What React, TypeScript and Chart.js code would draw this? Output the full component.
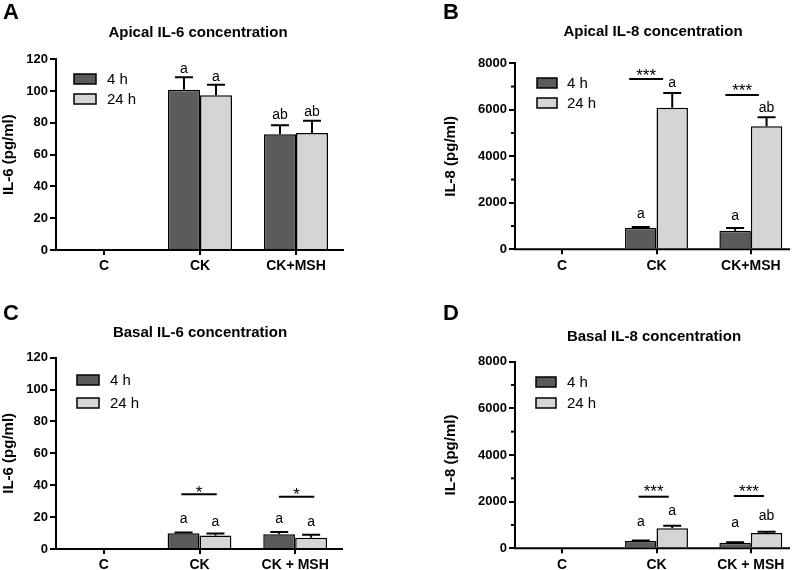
import React, { useEffect, useRef } from 'react';
import { Chart, registerables } from 'chart.js';

Chart.register(...registerables);

const FONT = '"Liberation Sans", Arial, Helvetica, sans-serif';

// ---------- data ----------
const seriesLabels = ['4 h', '24 h'];
const categoriesApical = ['C', 'CK', 'CK+MSH'];
const categoriesBasal = ['C', 'CK', 'CK + MSH'];

const ticksIL6 = [0, 20, 40, 60, 80, 100, 120];
const ticksIL8 = [0, 2000, 4000, 6000, 8000];
const minorTicksIL8 = [1000, 3000, 5000, 7000];

// A: apical IL-6
const apicalIL6_4h = [0, 100.9, 72.8];
const apicalIL6_4h_sem = [0, 7.8, 5.7];
const apicalIL6_24h = [0, 97.3, 73.6];
const apicalIL6_24h_sem = [0, 6.7, 7.8];
// [category, series, text, y]
const apicalIL6_letters: [number, number, string, number][] = [
  [1, 0, 'a', 113.8],
  [1, 1, 'a', 108.9],
  [2, 0, 'ab', 85],
  [2, 1, 'ab', 86.4],
];
// [category, lineY, starY, text]
const apicalIL6_sig: [number, number, number, string][] = [];

// B: apical IL-8
const apicalIL8_4h = [0, 929, 800];
const apicalIL8_4h_sem = [0, 30, 116];
const apicalIL8_24h = [30, 6090, 5290];
const apicalIL8_24h_sem = [0, 630, 387];
const apicalIL8_letters: [number, number, string, number][] = [
  [1, 0, 'a', 1518],
  [1, 1, 'a', 7153],
  [2, 0, 'a', 1432],
  [2, 1, 'ab', 6056],
];
const apicalIL8_sig: [number, number, number, string][] = [
  [1, 7325, 7669, '***'],
  [2, 6637, 7023, '***'],
];

// C: basal IL-6
const basalIL6_4h = [0, 9.85, 9.2];
const basalIL6_4h_sem = [0, 0.5, 1.5];
const basalIL6_24h = [0, 8.4, 7.1];
const basalIL6_24h_sem = [0, 1.3, 1.9];
const basalIL6_letters: [number, number, string, number][] = [
  [1, 0, 'a', 18.5],
  [1, 1, 'a', 16.9],
  [2, 0, 'a', 18.5],
  [2, 1, 'a', 16.9],
];
const basalIL6_sig: [number, number, number, string][] = [
  [1, 34.3, 38.1, '*'],
  [2, 32.8, 37.0, '*'],
];

// D: basal IL-8
const basalIL8_4h = [0, 313, 240];
const basalIL8_4h_sem = [0, 20, 15];
const basalIL8_24h = [0, 857, 656];
const basalIL8_24h_sem = [0, 112, 57];
const basalIL8_letters: [number, number, string, number][] = [
  [1, 0, 'a', 1128],
  [1, 1, 'a', 1599],
  [2, 0, 'a', 1063],
  [2, 1, 'ab', 1355],
];
const basalIL8_sig: [number, number, number, string][] = [
  [1, 2212, 2607, '***'],
  [2, 2242, 2620, '***'],
];

// ---------- styles / layout ----------
const DARK = '#5b5b5b';
const LIGHT = '#d5d5d5';

type Layout = {
  x: number; y: number;
  padL: number; left: number; right: number; top: number; bottom: number;
  axisInset: number;
  titleX: number; titleBase: number;
  letterX: number; letterBase: number;
  boxX: number; boxW: number; boxH: number; row1Y: number; row2Y: number; textX: number;
  sigSpans: [number, number][];
};

type PanelCfg = {
  letter: string; title: string; yTitle: string;
  categories: string[];
  v4: number[]; e4: number[]; v24: number[]; e24: number[];
  ticks: number[]; minor: number[];
  letters: [number, number, string, number][];
  sig: [number, number, number, string][];
  L: Layout;
};

const panels: PanelCfg[] = [
  {
    letter: 'A', title: 'Apical IL-6 concentration', yTitle: 'IL-6 (pg/ml)',
    categories: categoriesApical,
    v4: apicalIL6_4h, e4: apicalIL6_4h_sem, v24: apicalIL6_24h, e24: apicalIL6_24h_sem,
    ticks: ticksIL6, minor: [], letters: apicalIL6_letters, sig: apicalIL6_sig,
    L: { x: 0, y: 0, padL: 0, left: 56, right: 344, top: 59.3, bottom: 250, axisInset: 0,
      titleX: 198, titleBase: 36.5, letterX: 3, letterBase: 19,
      boxX: 74, boxW: 22, boxH: 10, row1Y: 74, row2Y: 94, textX: 107, sigSpans: [] },
  },
  {
    letter: 'B', title: 'Apical IL-8 concentration', yTitle: 'IL-8 (pg/ml)',
    categories: categoriesApical,
    v4: apicalIL8_4h, e4: apicalIL8_4h_sem, v24: apicalIL8_24h, e24: apicalIL8_24h_sem,
    ticks: ticksIL8, minor: minorTicksIL8, letters: apicalIL8_letters, sig: apicalIL8_sig,
    L: { x: 400, y: 0, padL: 42, left: 115, right: 398, top: 63.3, bottom: 249.3, axisInset: 8,
      titleX: 253, titleBase: 35.7, letterX: 43, letterBase: 19,
      boxX: 137, boxW: 20, boxH: 10, row1Y: 78, row2Y: 98, textX: 167,
      sigSpans: [[-0.29, 0.07], [-0.27, 0.085]] },
  },
  {
    letter: 'C', title: 'Basal IL-6 concentration', yTitle: 'IL-6 (pg/ml)',
    categories: categoriesBasal,
    v4: basalIL6_4h, e4: basalIL6_4h_sem, v24: basalIL6_24h, e24: basalIL6_24h_sem,
    ticks: ticksIL6, minor: [], letters: basalIL6_letters, sig: basalIL6_sig,
    L: { x: 0, y: 285, padL: 0, left: 56, right: 343, top: 72.7, bottom: 264, axisInset: 0,
      titleX: 200, titleBase: 52.4, letterX: 3, letterBase: 35,
      boxX: 77, boxW: 22, boxH: 10, row1Y: 90, row2Y: 113, textX: 110,
      sigSpans: [[-0.19, 0.18], [-0.17, 0.2]] },
  },
  {
    letter: 'D', title: 'Basal IL-8 concentration', yTitle: 'IL-8 (pg/ml)',
    categories: categoriesBasal,
    v4: basalIL8_4h, e4: basalIL8_4h_sem, v24: basalIL8_24h, e24: basalIL8_24h_sem,
    ticks: ticksIL8, minor: minorTicksIL8, letters: basalIL8_letters, sig: basalIL8_sig,
    L: { x: 400, y: 285, padL: 42, left: 115, right: 398, top: 76.7, bottom: 263.3, axisInset: 8,
      titleX: 254, titleBase: 55.7, letterX: 43, letterBase: 35,
      boxX: 136, boxW: 20, boxH: 10, row1Y: 92, row2Y: 113, textX: 167,
      sigSpans: [[-0.19, 0.13], [-0.18, 0.14]] },
  },
];

const W = 400;
const H = 285;

function makePlugin(p: PanelCfg) {
  const L = p.L;
  return {
    id: 'decor' + p.letter,
    afterDatasetsDraw(chart: any) {
      const ctx = chart.ctx as CanvasRenderingContext2D;
      const ys = chart.scales.y;
      const sems = [p.e4, p.e24];
      const vals = [p.v4, p.v24];
      ctx.save();
      ctx.strokeStyle = '#000';
      ctx.lineWidth = 2;
      for (let s = 0; s < 2; s++) {
        const meta = chart.getDatasetMeta(s);
        for (let j = 0; j < vals[s].length; j++) {
          const sem = sems[s][j];
          if (!sem) continue;
          const bar = meta.data[j];
          const yTop = ys.getPixelForValue(vals[s][j]);
          const yErr = ys.getPixelForValue(vals[s][j] + sem);
          ctx.beginPath();
          ctx.moveTo(bar.x, yTop);
          ctx.lineTo(bar.x, yErr);
          ctx.moveTo(bar.x - 9, yErr);
          ctx.lineTo(bar.x + 9, yErr);
          ctx.stroke();
        }
      }
      ctx.restore();
    },
    afterDraw(chart: any) {
      const ctx = chart.ctx as CanvasRenderingContext2D;
      const ca = chart.chartArea;
      const ys = chart.scales.y;
      const xs = chart.scales.x;
      ctx.save();
      // x axis line
      ctx.strokeStyle = '#000';
      ctx.lineWidth = 2;
      ctx.beginPath();
      ctx.moveTo(ca.left - 1, ca.bottom);
      ctx.lineTo(ca.right - L.axisInset, ca.bottom);
      ctx.stroke();
      // minor ticks
      for (const v of p.minor) {
        const y = ys.getPixelForValue(v);
        ctx.beginPath();
        ctx.moveTo(ca.left - 4, y);
        ctx.lineTo(ca.left, y);
        ctx.stroke();
      }
      // panel letter
      ctx.fillStyle = '#000';
      ctx.textAlign = 'left';
      ctx.textBaseline = 'alphabetic';
      ctx.font = `bold 22px ${FONT}`;
      ctx.fillText(p.letter, L.letterX, L.letterBase);
      // title
      ctx.textAlign = 'center';
      ctx.font = `bold 15px ${FONT}`;
      ctx.fillText(p.title, L.titleX, L.titleBase);
      // legend
      const cols = [DARK, LIGHT];
      const rows = [L.row1Y, L.row2Y];
      ctx.lineWidth = 1.5;
      for (let i = 0; i < 2; i++) {
        ctx.fillStyle = cols[i];
        ctx.fillRect(L.boxX, rows[i], L.boxW, L.boxH);
        ctx.strokeRect(L.boxX, rows[i], L.boxW, L.boxH);
        ctx.fillStyle = '#000';
        ctx.textAlign = 'left';
        ctx.font = `15px ${FONT}`;
        ctx.fillText(seriesLabels[i], L.textX, rows[i] + L.boxH / 2 + 5.4);
      }
      // letters
      ctx.font = `14px ${FONT}`;
      ctx.textAlign = 'center';
      for (const [ci, si, text, yv] of p.letters) {
        const bar = chart.getDatasetMeta(si).data[ci];
        const y = ys.getPixelForValue(yv);
        ctx.fillText(text, bar.x, y + 3.6);
      }
      // significance
      const cw = (ca.right - ca.left) / p.categories.length;
      ctx.lineWidth = 2;
      p.sig.forEach(([ci, lineY, starY, text], k) => {
        const cx = xs.getPixelForValue(ci);
        const span = L.sigSpans[k];
        const x0 = cx + span[0] * cw;
        const x1 = cx + span[1] * cw;
        const y = ys.getPixelForValue(lineY);
        ctx.beginPath();
        ctx.moveTo(x0, y);
        ctx.lineTo(x1, y);
        ctx.stroke();
        ctx.font = `17px ${FONT}`;
        ctx.fillText(text, (x0 + x1) / 2, ys.getPixelForValue(starY) + 0.57 * 17);
      });
      ctx.restore();
    },
  };
}

function Panel({ p }: { p: PanelCfg }) {
  const ref = useRef<HTMLCanvasElement>(null);
  useEffect(() => {
    if (!ref.current) return;
    const L = p.L;
    const yMax = p.ticks[p.ticks.length - 1];
    const chart = new Chart(ref.current, {
      type: 'bar',
      data: {
        labels: p.categories,
        datasets: [
          { label: seriesLabels[0], data: p.v4, backgroundColor: DARK, borderColor: '#000', borderWidth: 1.5 },
          { label: seriesLabels[1], data: p.v24, backgroundColor: LIGHT, borderColor: '#000', borderWidth: 1.5 },
        ],
      },
      options: {
        animation: false,
        responsive: false,
        maintainAspectRatio: false,
        devicePixelRatio: 1,
        layout: { padding: { left: L.padL, right: W - L.right, top: L.top, bottom: 0 } },
        datasets: { bar: { categoryPercentage: 0.667, barPercentage: 1 } },
        plugins: { legend: { display: false }, title: { display: false }, tooltip: { enabled: false } },
        scales: {
          x: {
            afterFit: (s: any) => { s.height = H - L.bottom; },
            border: { display: false },
            grid: { display: true, drawOnChartArea: false, drawTicks: true, tickLength: 5, offset: false, color: '#000', lineWidth: 2 },
            ticks: { color: '#000', font: { family: FONT, size: 14, weight: 'bold' }, padding: 3, maxRotation: 0, autoSkip: false },
          },
          y: {
            min: 0,
            max: yMax,
            afterFit: (s: any) => { s.width = L.left - L.padL; },
            afterBuildTicks: (s: any) => { s.ticks = p.ticks.map((v) => ({ value: v })); },
            border: { display: true, color: '#000', width: 2 },
            grid: { display: true, drawOnChartArea: false, drawTicks: true, tickLength: 6, color: '#000', lineWidth: 2 },
            ticks: {
              color: '#000',
              font: { family: FONT, size: 13, weight: 'bold' },
              padding: 2,
              callback: (v: any) => String(v),
            },
            title: { display: true, text: p.yTitle, color: '#000', font: { family: FONT, size: 15, weight: 'bold' }, padding: 0 },
          },
        },
      },
      plugins: [makePlugin(p)],
    } as any);
    return () => chart.destroy();
  }, [p]);
  return (
    <canvas
      ref={ref}
      width={W}
      height={H}
      style={{ position: 'absolute', left: p.L.x, top: p.L.y, width: W, height: H }}
    />
  );
}

export default function App() {
  return (
    <div style={{ position: 'fixed', left: 0, top: 0, width: 800, height: 570, background: '#fff', overflow: 'hidden' }}>
      {panels.map((p) => (
        <Panel key={p.letter} p={p} />
      ))}
    </div>
  );
}
